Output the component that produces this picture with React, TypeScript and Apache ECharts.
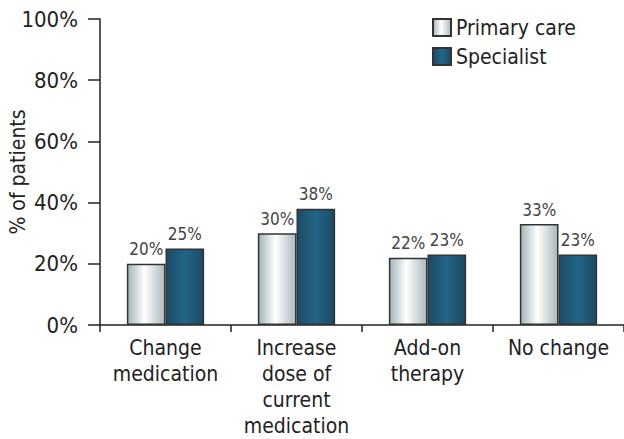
import React, { useEffect, useRef } from "react";
import * as echarts from "echarts";

const categories = ["Change\nmedication", "Increase\ndose of\ncurrent\nmedication", "Add-on\ntherapy", "No change"];
const primaryCare = [20, 30, 22, 33];
const specialist = [25, 38, 23, 23];
const seriesNames = ["Primary care", "Specialist"];
const yTicks = { min: 0, max: 100, interval: 20 };

const FONT = "'DejaVu Sans Condensed', 'Liberation Sans Narrow', 'Roboto Condensed', sans-serif";

export default function App() {
  const ref = useRef<HTMLDivElement>(null);
  useEffect(() => {
    const chart = echarts.init(ref.current!, null, { renderer: "svg" });
    const primaryGrad = new echarts.graphic.LinearGradient(0, 0, 1, 0, [
      { offset: 0, color: "#a3b4b9" },
      { offset: 0.45, color: "#ffffff" },
      { offset: 1, color: "#a9b8bc" },
    ]);
    const specGrad = new echarts.graphic.LinearGradient(0, 0, 1, 0, [
      { offset: 0, color: "#1b4c66" },
      { offset: 0.5, color: "#236587" },
      { offset: 1, color: "#1b4a63" },
    ]);
    const label = {
      show: true,
      position: "top",
      distance: 6,
      formatter: "{c}%",
      fontFamily: FONT,
      fontSize: 17,
      color: "#444",
    };
    chart.setOption({
      animation: false,
      textStyle: { fontFamily: FONT },
      grid: { left: 100, right: 0, top: 19, bottom: 114, containLabel: false, outerBoundsMode: "none" },
      legend: {
        orient: "vertical",
        left: 427,
        top: 12,
        icon: "rect",
        itemWidth: 18,
        itemHeight: 17,
        itemGap: 8,
        textStyle: { fontFamily: FONT, fontSize: 21, color: "#222", padding: [0, 0, 0, 0] },
        data: seriesNames,
      },
      xAxis: {
        type: "category",
        data: categories,
        axisLine: { lineStyle: { color: "#222", width: 1.5 } },
        axisTick: { show: true, length: 7, alignWithLabel: false, lineStyle: { color: "#222", width: 1.5 } },
        axisLabel: {
          interval: 0,
          fontFamily: FONT,
          fontSize: 21,
          lineHeight: 26,
          color: "#222",
          margin: 10,
        },
      },
      yAxis: {
        type: "value",
        min: yTicks.min,
        max: yTicks.max,
        interval: yTicks.interval,
        name: "% of patients",
        nameLocation: "middle",
        nameGap: 72,
        nameMoveOverlap: false,
        nameTextStyle: { fontFamily: FONT, fontSize: 21, color: "#222" },
        splitLine: { show: false },
        axisLine: { show: true, lineStyle: { color: "#222", width: 1.5 } },
        axisTick: { show: true, length: 12, lineStyle: { color: "#222", width: 1.5 } },
        axisLabel: {
          formatter: "{value}%",
          fontFamily: FONT,
          fontSize: 22,
          color: "#222",
          margin: 22,
        },
      },
      series: [
        {
          name: seriesNames[0],
          type: "bar",
          data: primaryCare,
          barGap: "0%",
          barCategoryGap: "41%",
          itemStyle: { color: primaryGrad, borderColor: "#333", borderWidth: 1.5 },
          label,
        },
        {
          name: seriesNames[1],
          type: "bar",
          data: specialist,
          itemStyle: { color: specGrad, borderColor: "#333", borderWidth: 1.5 },
          label,
        },
      ],
    });
    return () => chart.dispose();
  }, []);
  return <div ref={ref} style={{ width: 624, height: 439, position: "absolute", left: 0, top: 0 }} />;
}
